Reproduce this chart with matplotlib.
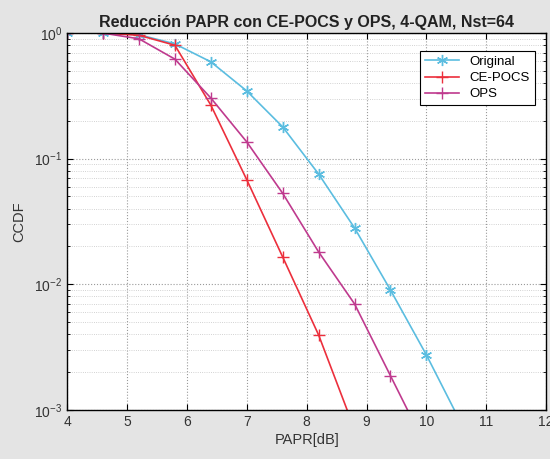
import matplotlib
matplotlib.use("Agg")
import matplotlib.pyplot as plt
import numpy as np
from matplotlib.ticker import LogLocator, NullFormatter

# PAPR grid (dB) and CCDF values
papr = [4.0, 4.6, 5.2, 5.8, 6.4, 7.0, 7.6, 8.2, 8.8, 9.4, 10.0, 10.6]
ccdf_original = [1.0, 0.999, 0.97, 0.82, 0.59, 0.346, 0.179, 0.0755, 0.0281, 0.0090, 0.00274, 0.00075]
ccdf_cepocs = [1.0, 0.999, 0.96, 0.80, 0.267, 0.068, 0.0165, 0.00395, 0.0007]
ccdf_ops = [1.0, 0.999, 0.90, 0.62, 0.304, 0.136, 0.053, 0.0181, 0.00698, 0.00187, 0.0005]

plt.rcParams['font.family'] = ['Liberation Sans', 'DejaVu Sans']
plt.rcParams['mathtext.default'] = 'regular'

fig = plt.figure(figsize=(5.5, 4.59), dpi=100, facecolor='#e4e4e4')
ax = fig.add_axes([0.122, 0.107, 0.871, 0.821])

ax.semilogy(papr, ccdf_original, color='#5bbde0', marker=(6, 2, 0), markersize=8,
            linewidth=1.2, label='Original')
ax.semilogy(papr[:len(ccdf_cepocs)], ccdf_cepocs, color='#ec2f3c', marker='+', markersize=9,
            linewidth=1.2, label='CE-POCS')
ax.semilogy(papr[:len(ccdf_ops)], ccdf_ops, color='#bf3a8e', marker='+', markersize=9,
            linewidth=1.2, label='OPS')

ax.set_xlim(4, 12)
ax.set_ylim(1e-3, 1)
ax.set_xticks(range(4, 13))
ax.yaxis.set_major_locator(LogLocator(base=10, numticks=10))
ax.yaxis.set_minor_locator(LogLocator(base=10, subs=np.arange(2, 10), numticks=10))
ax.yaxis.set_minor_formatter(NullFormatter())

ax.grid(True, which='major', linestyle=':', color='#9a9a9a', linewidth=0.8)
ax.grid(True, which='minor', axis='y', linestyle=':', color='#c4c4c4', linewidth=0.6)
ax.tick_params(which='both', direction='in', top=True, right=True, labelsize=10,
               labelcolor='#333333')
ax.tick_params(which='major', length=4)
ax.tick_params(which='minor', length=2)
for s in ax.spines.values():
    s.set_linewidth(1.0)

ax.set_title('Reducción PAPR con CE-POCS y OPS, 4-QAM, Nst=64', fontsize=11.5,
             fontweight='bold', pad=4, color='#222222')
ax.set_xlabel('PAPR[dB]', fontsize=10.5, labelpad=3, color='#333333')
ax.set_ylabel('CCDF', fontsize=10.5, labelpad=6, color='#333333')

leg = ax.legend(loc='upper right', fontsize=9.5, fancybox=False, framealpha=1,
                edgecolor='black', borderaxespad=0, handlelength=2.6,
                bbox_to_anchor=(0.976, 0.952), borderpad=0.35, labelspacing=0.3)
leg.get_frame().set_linewidth(0.8)

fig.savefig('out.png', dpi=100, facecolor=fig.get_facecolor())
